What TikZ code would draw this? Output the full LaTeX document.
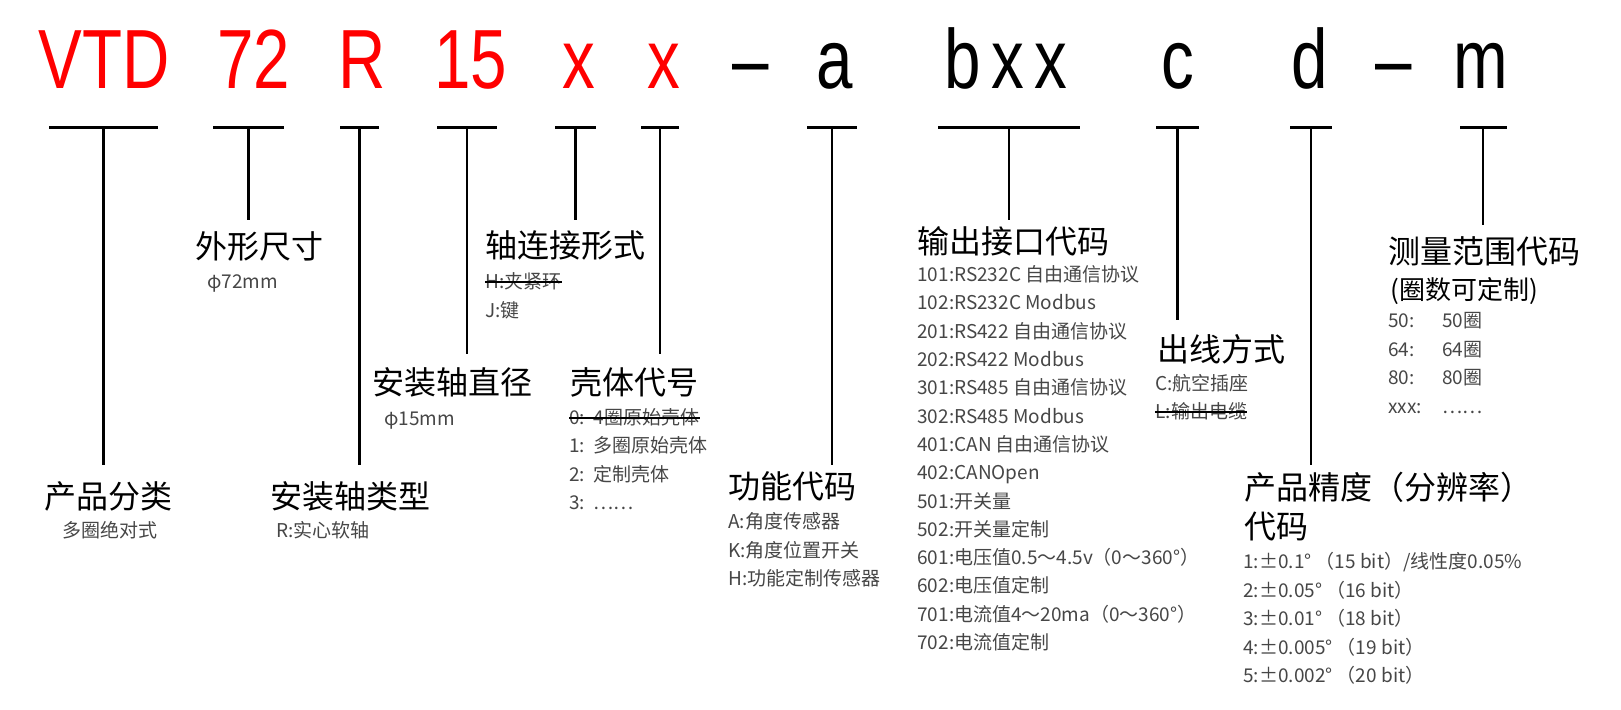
\documentclass[tikz,border=0pt]{standalone}
\usepackage{fontspec}
\newfontfamily\cjk{Noto Sans CJK SC}
\newfontfamily\codefont[FakeStretch=0.78]{Liberation Sans}
\definecolor{codered}{RGB}{255,0,0}
\definecolor{subgray}{RGB}{70,70,70}

\tikzset{
  code/.style={anchor=base, inner sep=0pt, font=\codefont\fontsize{42pt}{42pt}\selectfont},
  redcode/.style={code, text=codered},
  bar/.style={fill=black, inner sep=0pt, minimum height=1.5pt},
  stem/.style={line width=1.35pt},
  head/.style={anchor=west, inner sep=0pt, font=\cjk\fontsize{16pt}{19pt}\selectfont,
    text height=12.8pt, text depth=1.6pt},
  sub/.style={anchor=west, inner sep=0pt, text=subgray, font=\cjk\fontsize{9.5pt}{11pt}\selectfont,
    text height=7.6pt, text depth=1pt},
  strike/.style={line width=1pt},
}

\begin{document}
\begin{tikzpicture}[x=0.5pt,y=-0.5pt]
  \useasboundingbox (0,0) rectangle (1621,709);

  % model code
  \node[redcode] (cVTD) at (104,88) {VTD};
  \node[redcode] (c72) at (254,88) {72};
  \node[redcode] (cR) at (362,88) {R};
  \node[redcode] (c15) at (471,88) {15};
  \node[redcode] (cx1) at (579,88) {x};
  \node[redcode] (cx2) at (664,88) {x};
  \node[code] (cdash1) at (751,88) {–};
  \node[code] (ca) at (835,88) {a};
  \node[code] (cb) at (1006,88) {\addfontfeature{LetterSpace=12}bxx};
  \node[code] (cc) at (1178,88) {c};
  \node[code] (cd) at (1310,88) {d};
  \node[code] (cdash2) at (1394,88) {–};
  \node[code] (cm) at (1481,88) {m};

  % bars and stems
  \foreach \n/\x/\w/\e in {VTD/103.5/109/465, 72/248.5/71/220, R/359.5/39/465,
      15/467/60/354, x1/575.5/41/220, x2/660/38/354, a/832/50/465,
      b/1009/142/220, c/1177.5/43/320, d/1311/42/465, m/1483/47/225} {
    \node[bar, minimum width=\w*0.5pt] (b\n) at (\x,127) {};
    \coordinate (e\n) at (\x,\e);
    \draw[stem] (b\n.center) -- (e\n);
  }

  % headings
  \node[head] (hVTD) at (44,497) {产品分类};
  \node[head] (h72) at (195,247) {外形尺寸};
  \node[head] (hR) at (270,497) {安装轴类型};
  \node[head] (h15) at (372,383) {安装轴直径};
  \node[head] (hx1) at (485,246) {轴连接形式};
  \node[head] (hx2) at (570,383) {壳体代号};
  \node[head] (ha) at (728,487) {功能代码};
  \node[head] (hb) at (917,242) {输出接口代码};
  \node[head] (hc) at (1157,350) {出线方式};
  \node[head] (hd) at (1244,488) {产品精度（分辨率）};
  \node[head] (hd2) at (1244,527) {代码};
  \node[head] (hm) at (1388,252) {测量范围代码};
  \node[head, font=\cjk\fontsize{13pt}{16pt}\selectfont] (hm2) at (1390,288) {(圈数可定制)};

  % options
  \node[sub] (sVTD) at (62,531) {多圈绝对式};
  \node[sub] (s72) at (207,282) {φ72mm};
  \node[sub] (sR) at (276,531) {R:实心软轴};
  \node[sub] (s15) at (384,419) {φ15mm};

  \node[sub] (sx1-0) at (485,282) {H:夹紧环};
  \node[sub] (sx1-1) at (485,311) {J:键};
  \draw[strike] (sx1-0.west) -- (sx1-0.east);

  \node[sub] (sx2-0) at (569,418) {0:\ \ 4圈原始壳体};
  \draw[strike] (sx2-0.west) -- (sx2-0.east);
  \foreach \t [count=\i] in {1:\ \ 多圈原始壳体, 2:\ \ 定制壳体, 3:\ \ ……}
    \node[sub] (sx2-\i) at (569,418+28.3*\i) {\t};

  \foreach \t [count=\i from 0] in {A:角度传感器, K:角度位置开关, H:功能定制传感器}
    \node[sub] (sa-\i) at (728,522+28.5*\i) {\t};

  \foreach \t [count=\i from 0] in {101:RS232C 自由通信协议, 102:RS232C Modbus,
      201:RS422 自由通信协议, 202:RS422 Modbus, 301:RS485 自由通信协议,
      302:RS485 Modbus, 401:CAN 自由通信协议, 402:CANOpen, 501:开关量,
      502:开关量定制, 601:电压值0.5～4.5v（0～360°）, 602:电压值定制,
      701:电流值4～20ma（0～360°）, 702:电流值定制}
    \node[sub] (sb-\i) at (917,275+28.3*\i) {\t};

  \node[sub] (sc-0) at (1155,384) {C:航空插座};
  \node[sub] (sc-1) at (1155,412) {L:输出电缆};
  \draw[strike] (sc-1.west) -- (sc-1.east);

  \foreach \t [count=\i from 0] in {1:±0.1° （15 bit）/线性度0.05\%, 2:±0.05° （16 bit）,
      3:±0.01° （18 bit）, 4:±0.005° （19 bit）, 5:±0.002° （20 bit）}
    \node[sub] (sd-\i) at (1243,562+28.5*\i) {\t};

  \foreach \a/\b [count=\i from 0] in {50:/50圈, 64:/64圈, 80:/80圈, xxx:/……}
    \node[sub] (sm-\i) at (1388,321+28.6*\i) {\makebox[27pt][l]{\a}\b};
\end{tikzpicture}
\end{document}
